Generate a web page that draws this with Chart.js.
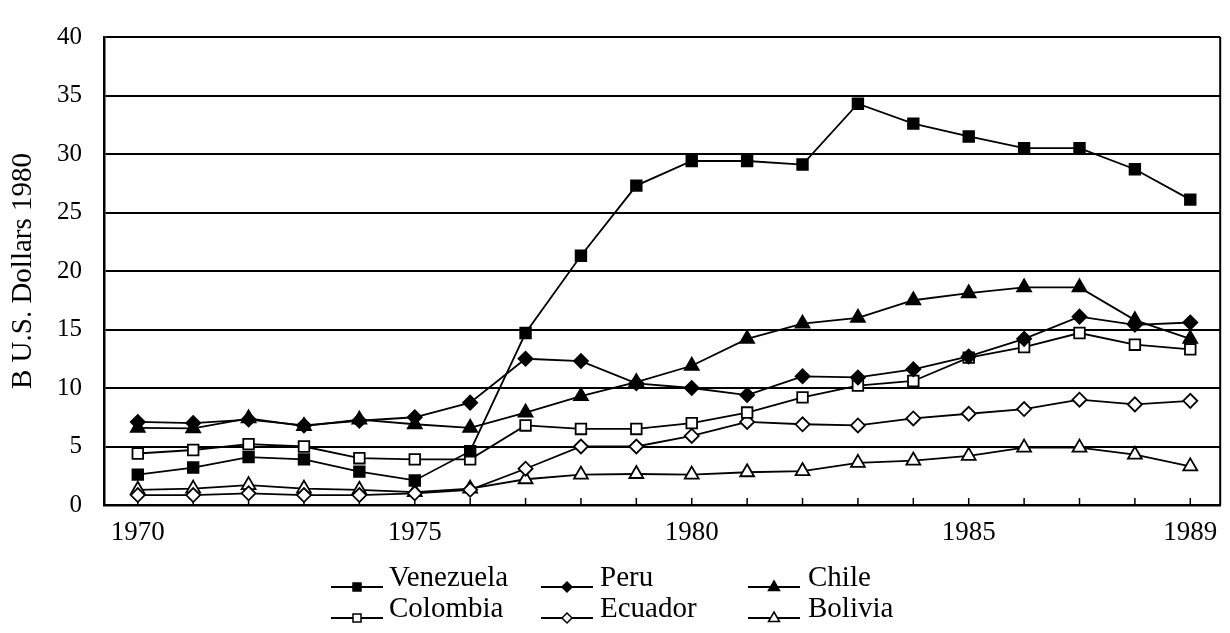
<!DOCTYPE html>
<html>
<head>
<meta charset="utf-8">
<script src="https://cdn.jsdelivr.net/npm/chart.js@4/dist/chart.umd.min.js"></script>
<style>
  html, body { margin: 0; padding: 0; background: #fff; }
  #wrap { position: relative; width: 1230px; height: 633px; overflow: hidden; }
  canvas { position: absolute; left: 0; top: 0; }
  .lg { position: absolute; font-family: "Liberation Serif", "Times New Roman", serif; font-size: 29px; line-height: 29px; color: #000; white-space: nowrap; }
  .sw { position: absolute; }
</style>
</head>
<body>
<div id="wrap">
  <canvas id="c" width="1230" height="633"></canvas>
  <div id="legend"></div>
</div>
<script>
const years = [1970,1971,1972,1973,1974,1975,1976,1977,1978,1979,1980,1981,1982,1983,1984,1985,1986,1987,1988,1989];
const labelYears = [1970, 1975, 1980, 1985, 1989];
const yTicks = [0, 5, 10, 15, 20, 25, 30, 35, 40];

const venezuela = [2.6, 3.2, 4.1, 3.9, 2.85, 2.1, 4.6, 14.7, 21.3, 27.3, 29.4, 29.4, 29.1, 34.3, 32.6, 31.5, 30.5, 30.5, 28.7, 26.1];
const peru      = [7.1, 7.0, 7.3, 6.8, 7.2, 7.5, 8.75, 12.5, 12.3, 10.4, 10.0, 9.4, 11.0, 10.9, 11.6, 12.7, 14.2, 16.1, 15.4, 15.6];
const chile     = [6.6, 6.55, 7.4, 6.75, 7.3, 6.9, 6.6, 7.9, 9.3, 10.5, 11.9, 14.2, 15.5, 16.0, 17.5, 18.1, 18.6, 18.6, 15.8, 14.2];
const colombia  = [4.4, 4.7, 5.2, 5.0, 4.0, 3.9, 3.9, 6.8, 6.5, 6.5, 7.0, 7.9, 9.2, 10.2, 10.6, 12.6, 13.5, 14.7, 13.7, 13.3];
const ecuador   = [0.85, 0.85, 1.0, 0.85, 0.85, 1.0, 1.3, 3.1, 5.0, 5.0, 5.9, 7.1, 6.9, 6.8, 7.4, 7.8, 8.2, 9.0, 8.6, 8.9];
const bolivia   = [1.3, 1.4, 1.7, 1.4, 1.3, 1.1, 1.4, 2.2, 2.6, 2.65, 2.6, 2.8, 2.9, 3.6, 3.8, 4.2, 4.9, 4.9, 4.3, 3.3];

const seriesNames = ['Venezuela', 'Peru', 'Chile', 'Colombia', 'Ecuador', 'Bolivia'];
const seriesData = [venezuela, peru, chile, colombia, ecuador, bolivia];
const seriesStyle = [
  {shape: 'rect', fill: '#000', r: 7.5},
  {shape: 'rectRot', fill: '#000', r: 7},
  {shape: 'triangle', fill: '#000', r: 8},
  {shape: 'rect', fill: '#fff', r: 7.5},
  {shape: 'rectRot', fill: '#fff', r: 7},
  {shape: 'triangle', fill: '#fff', r: 8}
];
const FONT = '"Liberation Serif", "Times New Roman", serif';

const datasets = seriesNames.map((name, i) => ({
  label: name,
  data: years.map((y, j) => ({x: y, y: seriesData[i][j]})),
  borderColor: '#000',
  borderWidth: 1.8,
  tension: 0,
  pointStyle: seriesStyle[i].shape,
  pointRadius: seriesStyle[i].r,
  pointBackgroundColor: seriesStyle[i].fill,
  pointBorderColor: '#000',
  pointBorderWidth: 1.8,
  fill: false
}));

const framePlugin = {
  id: 'frame',
  beforeDatasetsDraw(chart) {
    const {ctx, chartArea, scales} = chart;
    ctx.save();
    ctx.strokeStyle = '#000';
    ctx.lineWidth = 1.5;
    years.forEach(y => {
      const px = scales.x.getPixelForValue(y);
      ctx.beginPath();
      ctx.moveTo(px, chartArea.bottom);
      ctx.lineTo(px, chartArea.bottom - 7);
      ctx.stroke();
    });
    ctx.lineWidth = 2;
    ctx.beginPath();
    ctx.moveTo(chartArea.right, chartArea.top);
    ctx.lineTo(chartArea.right, chartArea.bottom);
    ctx.stroke();
    ctx.restore();
  }
};

new Chart(document.getElementById('c'), {
  type: 'line',
  data: {datasets},
  plugins: [framePlugin],
  options: {
    responsive: false,
    animation: false,
    layout: {padding: {left: 0, right: 2, top: 20, bottom: 83}},
    plugins: {legend: {display: false}, tooltip: {enabled: false}},
    scales: {
      x: {
        type: 'linear',
        min: 1969.39,
        max: 1989.54,
        afterBuildTicks: s => { s.ticks = years.map(v => ({value: v})); },
        afterFit: s => { s.height = 45; },
        ticks: {
          autoSkip: false, maxRotation: 0, padding: 12, color: '#000',
          font: {family: FONT, size: 27},
          callback: v => labelYears.includes(v) ? String(v) : ''
        },
        grid: {display: false, drawTicks: false},
        border: {display: true, color: '#000', width: 2.5}
      },
      y: {
        min: 0, max: 40,
        afterBuildTicks: s => { s.ticks = yTicks.map(v => ({value: v})); },
        afterFit: s => { s.width = 104; },
        ticks: {padding: 22, color: '#000', font: {family: FONT, size: 25}},
        grid: {color: '#000', lineWidth: 2, drawTicks: false},
        border: {display: true, color: '#000', width: 2.5},
        title: {display: true, text: 'B U.S. Dollars 1980', color: '#000', font: {family: FONT, size: 29}, padding: {top: 6, bottom: 0}}
      }
    }
  }
});

// HTML legend with line+marker samples
const legendPos = [
  {lx: 331, tx: 389, top: 562}, {lx: 541, tx: 600, top: 562}, {lx: 748, tx: 808, top: 562},
  {lx: 331, tx: 389, top: 593}, {lx: 541, tx: 600, top: 593}, {lx: 748, tx: 808, top: 593}
];
const legend = document.getElementById('legend');
function markerSVG(st) {
  const cx = 26, cy = 10, f = st.fill;
  if (st.shape === 'rect') return `<rect x="${cx-4}" y="${cy-4}" width="8" height="8" fill="${f}" stroke="#000" stroke-width="1.5"/>`;
  if (st.shape === 'rectRot') return `<polygon points="${cx},${cy-5} ${cx+5},${cy} ${cx},${cy+5} ${cx-5},${cy}" fill="${f}" stroke="#000" stroke-width="1.5"/>`;
  return `<polygon points="${cx},${cy-6} ${cx+5.5},${cy+3.5} ${cx-5.5},${cy+3.5}" fill="${f}" stroke="#000" stroke-width="1.5"/>`;
}
seriesNames.forEach((name, i) => {
  const p = legendPos[i];
  const sw = document.createElement('div');
  sw.className = 'sw';
  sw.style.left = p.lx + 'px';
  sw.style.top = (p.top + 15) + 'px';
  sw.innerHTML = `<svg width="52" height="20" xmlns="http://www.w3.org/2000/svg"><line x1="0" y1="10" x2="52" y2="10" stroke="#000" stroke-width="2"/>${markerSVG(seriesStyle[i])}</svg>`;
  legend.appendChild(sw);
  const t = document.createElement('div');
  t.className = 'lg';
  t.style.left = p.tx + 'px';
  t.style.top = p.top + 'px';
  t.textContent = name;
  legend.appendChild(t);
});
</script>
</body>
</html>
